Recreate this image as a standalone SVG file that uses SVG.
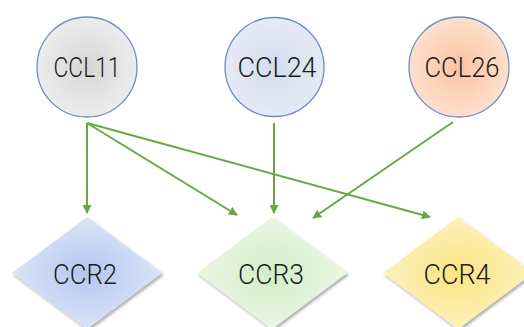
<svg xmlns="http://www.w3.org/2000/svg" width="524" height="327" viewBox="0 0 524 327">
<style>
.c{stroke:#6f8cc6;stroke-width:1.3}
.t{font-family:Roboto,"Liberation Sans",sans-serif;font-size:28px;font-weight:300;fill:#1a1a1a;text-anchor:middle}
.e{stroke:#66a843;stroke-width:2;fill:none;marker-end:url(#ah)}
</style>
<defs>
<marker id="ah" viewBox="0 0 10 10" refX="9" refY="5" markerWidth="4.5" markerHeight="4.5" orient="auto" markerUnits="strokeWidth"><path d="M0,0 L10,5 L0,10 z" fill="#66a843"/></marker>
<radialGradient id="g1"><stop offset="0" stop-color="#d6d6d6"/><stop offset="1" stop-color="#ececec"/></radialGradient>
<radialGradient id="g2"><stop offset="0" stop-color="#d2ddef"/><stop offset="1" stop-color="#e5ebf5"/></radialGradient>
<radialGradient id="g3"><stop offset="0" stop-color="#fbc3a1"/><stop offset="1" stop-color="#fde0cd"/></radialGradient>
<radialGradient id="g4"><stop offset="0" stop-color="#b3c6f0"/><stop offset="1" stop-color="#dbe4f8"/></radialGradient>
<radialGradient id="g5"><stop offset="0" stop-color="#d3eec8"/><stop offset="1" stop-color="#eaf6e4"/></radialGradient>
<radialGradient id="g6"><stop offset="0" stop-color="#fbe47f"/><stop offset="1" stop-color="#fdf1be"/></radialGradient>
<filter id="sh" x="-20%" y="-20%" width="140%" height="140%"><feDropShadow dx="1.5" dy="2" stdDeviation="1.5" flood-color="#000" flood-opacity="0.35"/></filter>
</defs>
<g id="edges">
<line class="e" x1="87" y1="123" x2="87" y2="213"/>
<line class="e" x1="87" y1="123" x2="237" y2="215"/>
<line class="e" x1="87" y1="123" x2="430" y2="217"/>
<line class="e" x1="274" y1="123" x2="274" y2="213"/>
<line class="e" x1="453" y1="122" x2="313" y2="218"/>
</g>
<g id="CCL11"><circle class="c" cx="87" cy="67" r="50" fill="url(#g1)"/><text class="t" x="87" y="77" textLength="67" lengthAdjust="spacingAndGlyphs">CCL11</text></g>
<g id="CCL24"><circle class="c" cx="274.5" cy="67" r="49.5" fill="url(#g2)"/><text class="t" x="277" y="77" textLength="79" lengthAdjust="spacingAndGlyphs">CCL24</text></g>
<g id="CCL26"><circle class="c" cx="459" cy="67" r="50" fill="url(#g3)"/><text class="t" x="462" y="77" textLength="75" lengthAdjust="spacingAndGlyphs">CCL26</text></g>
<g id="CCR2"><path d="M87,217 L162,273 L87,329 L12,273 Z" fill="url(#g4)" filter="url(#sh)"/><text class="t" x="85" y="284" textLength="64" lengthAdjust="spacingAndGlyphs">CCR2</text></g>
<g id="CCR3"><path d="M272,217 L347,273 L272,329 L197,273 Z" fill="url(#g5)" filter="url(#sh)"/><text class="t" x="271" y="284" textLength="66" lengthAdjust="spacingAndGlyphs">CCR3</text></g>
<g id="CCR4"><path d="M458,217 L533,273 L458,329 L383,273 Z" fill="url(#g6)" filter="url(#sh)"/><text class="t" x="457" y="284" textLength="67" lengthAdjust="spacingAndGlyphs">CCR4</text></g>
</svg>
